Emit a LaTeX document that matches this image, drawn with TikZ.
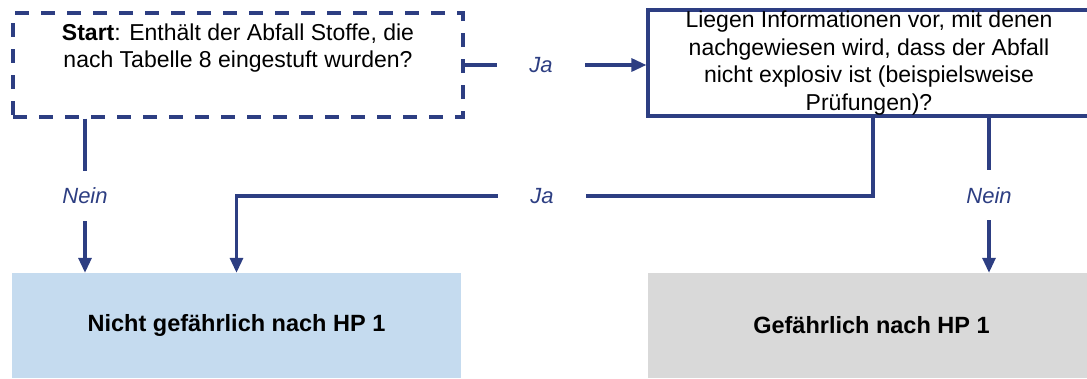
\documentclass[tikz,border=0pt]{standalone}
\usepackage{fontspec}
\setmainfont{Liberation Sans}
\usepackage{tikz}
\usetikzlibrary{
  calc,
  arrows.meta,
  positioning}

\definecolor{flowblue}{RGB}{45,62,130}
\definecolor{okblue}{RGB}{197,219,239}
\definecolor{hazgray}{RGB}{217,217,217}

\begin{document}
\begin{tikzpicture}[x=1pt,y=-1pt]
  \tikzset{question/.style={draw=flowblue,
                            line width=3.2pt,
                            rectangle,
                            inner sep=0pt,
                            align=center,
                            font=\fontsize{23}{27.5}\selectfont},
           result/.style={rectangle,
                          inner sep=0pt,
                          align=center,
                          font=\fontsize{23.5}{28}\selectfont\bfseries},
           answer/.style={fill=white,
                          text=flowblue,
                          inner xsep=32pt,
                          inner ysep=17pt,
                          font=\fontsize{22}{26}\selectfont\itshape},
           flow/.style={draw=flowblue,
                        line width=3.2pt,
                        -{Triangle[length=15pt,width=13pt]}}
           }

%%%%%%%%%%%%%%%%%%%%%%%%%%%%%%%%%%%%%%%%%%%%%%%%%%%%%%%%%%%%%%%%%%%%%%%%%%%%%%

\useasboundingbox (0,0) rectangle (1087,378);

%%%%%%%%%%%%%%%%%%%%%%%%%%%%%%%%%%%%%%%%%%%%%%%%%%%%%%%%%%%%%%%%%%%%%%%%%%%%%%

\node[question,dash pattern=on 14pt off 12pt,minimum width=450pt,text height=54.5pt,text depth=49.5pt] (start) at (238,65) {\textbf{Start}: Enthält der Abfall Stoffe, die\\nach Tabelle 8 eingestuft wurden?};

\node[question,minimum width=442pt,minimum height=106pt] (explosiv) at (869,63) {Liegen Informationen vor, mit denen\\nachgewiesen wird, dass der Abfall\\nicht explosiv ist (beispielsweise\\Prüfungen)?};

\node[result,fill=okblue,minimum width=449pt,minimum height=105pt] (nothaz) at (236.5,325.5) {Nicht gefährlich nach HP 1};

\node[result,fill=hazgray,minimum width=447pt,minimum height=105pt] (haz) at (871.5,325.5) {Gefährlich nach HP 1};

\coordinate (jarow) at (0,196);

%%%%%%%%%%%%%%%%%%%%%%%%%%%%%%%%%%%%%%%%%%%%%%%%%%%%%%%%%%%%%%%%%%%%%%%%%%%%%%
\draw[flow]  (start.east) -- node[answer,pos=0.42] {Ja} (start.east -| explosiv.west);
\draw[flow]  ([xshift=-153pt]start.south) -- node[answer] {Nein} ([xshift=-153pt]start.south |- nothaz.north);
\draw[flow]  ([xshift=4pt]explosiv.south) |- node[answer,pos=0.76] {Ja} (nothaz.north |- jarow) -- (nothaz.north);
\draw[flow]  ([xshift=120pt]explosiv.south) -- node[answer] {Nein} ([xshift=120pt]explosiv.south |- haz.north);

%%%%%%%%%%%%%%%%%%%%%%%%%%%%%%%%%%%%%%%%%%%%%%%%%%%%%%%%%%%%%%%%%%%%%%%%%%%%%%

\end{tikzpicture}
\end{document}
